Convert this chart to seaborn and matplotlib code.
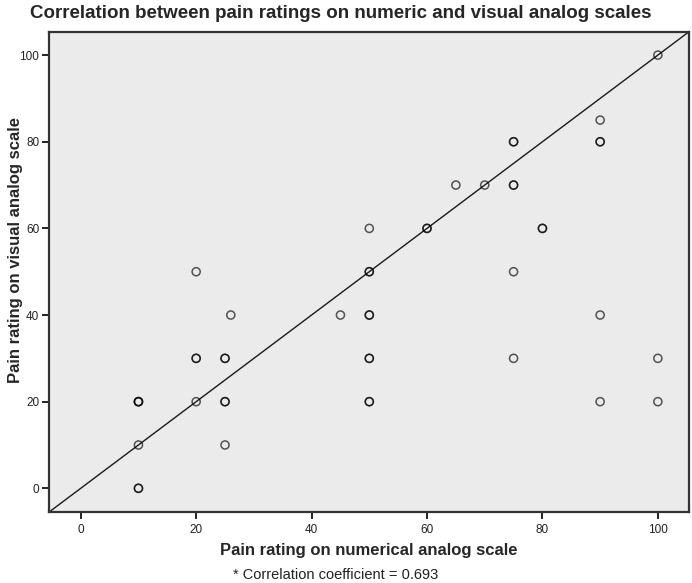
import pandas as pd
import matplotlib
matplotlib.use("Agg")
import matplotlib.pyplot as plt
import seaborn as sns

# pain ratings (repeated pairs drawn darker there)
nrs = [10, 10, 10, 10, 10, 10, 20, 20, 20, 20, 25, 25, 25, 25, 25, 26,
       45, 50, 50, 50, 50, 50, 50, 50, 50, 50, 60, 60, 65, 70,
       75, 75, 75, 75, 75, 75, 80, 80, 90, 90, 90, 90, 90, 100, 100, 100]
vas = [0, 0, 10, 20, 20, 20, 20, 30, 30, 50, 10, 20, 20, 30, 30, 40,
       40, 20, 20, 30, 30, 40, 40, 50, 50, 60, 60, 60, 70, 70,
       30, 50, 70, 70, 80, 80, 60, 60, 20, 40, 80, 80, 85, 20, 30, 100]

x_ticks = [0, 20, 40, 60, 80, 100]
y_ticks = [0, 20, 40, 60, 80, 100]
lims = (-5.5, 105.4)

title = "Correlation between pain ratings on numeric and visual analog scales"
x_label = "Pain rating on numerical analog scale"
y_label = "Pain rating on visual analog scale"
note = "* Correlation coefficient = 0.693"

df = pd.DataFrame({"nrs": nrs, "vas": vas})

sns.set_style("ticks")
plt.rcParams['font.family'] = ['Liberation Sans', 'DejaVu Sans']

fig = plt.figure(figsize=(6.92, 5.83), dpi=100)
ax = fig.add_axes([0.0708, 0.1223, 0.9249, 0.8233])
ax.set_facecolor('#ebebeb')

# reference line y = x across the whole frame
ax.plot(lims, lims, color='#1a1a1a', linewidth=1.0, zorder=2)

sns.scatterplot(data=df, x='nrs', y='vas', ax=ax, marker='o', s=34,
                facecolor='none', edgecolor=(0, 0, 0, 0.65), linewidth=1.1,
                zorder=3, legend=False)

ax.set_xlim(lims)
ax.set_ylim(-5.4, 105.4)
ax.set_xticks(x_ticks)
ax.set_yticks(y_ticks)
ax.tick_params(axis='both', direction='out', length=5, width=1.4,
               labelsize=8.5, color='#222222', labelcolor='#222222', pad=2)
ax.tick_params(axis='x', pad=4)
for side in ['top', 'right', 'bottom', 'left']:
    ax.spines[side].set_visible(True)
    ax.spines[side].set_linewidth(1.6)
    ax.spines[side].set_color('#333333')

ax.set_xlabel(x_label, fontsize=12, fontweight='bold', labelpad=5)
ax.set_ylabel("")
fig.text(0.022, 0.572, y_label, fontsize=12, fontweight='bold',
         rotation=90, ha='center', va='center')

fig.text(0.043, 0.976, title, fontsize=13.5, fontweight='bold', ha='left', va='center')
fig.text(0.485, 0.014, note, fontsize=10.5, ha='center', va='center', color='#222222')

fig.savefig('out.png', dpi=100)
